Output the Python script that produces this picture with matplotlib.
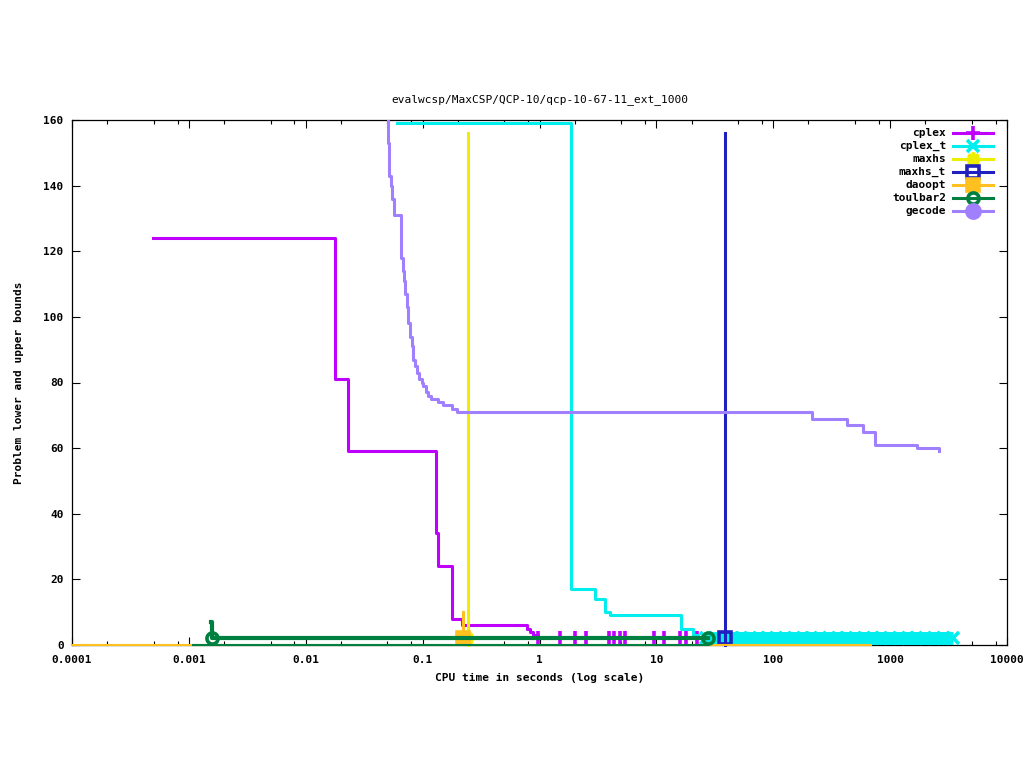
import matplotlib
matplotlib.use("Agg")
import matplotlib.pyplot as plt
from matplotlib.lines import Line2D
from matplotlib.ticker import FixedLocator, FixedFormatter, NullFormatter

# data
cplex_x = [0.00049, 0.0179, 0.0231, 0.1307, 0.136, 0.179, 0.216, 0.776, 0.828, 0.884, 0.963]
cplex_y = [124, 81, 59, 34, 24, 8, 6, 5, 4, 3, 2]
cplex_lb_x = [0.975, 1.50, 2.02, 2.51, 3.90, 4.36, 4.90, 5.41, 9.57, 11.7, 16.0, 18.0, 22.3]
cplex_lb_y = [2] * len(cplex_lb_x)

cplex_t_x = [0.060, 1.856, 2.99, 3.67, 4.0, 16.1, 20.6, 22.5]
cplex_t_y = [159, 17, 14, 10, 9, 5, 3, 2]
cplex_t_lb_x = [26.8, 32, 38, 45, 53, 63, 75, 89, 105, 125, 150, 178, 210, 250, 300,
                355, 420, 500, 600, 710, 840, 1000, 1190, 1410, 1680, 2000, 2380, 2830, 3440]
cplex_t_lb_y = [2] * len(cplex_t_lb_x)

maxhs_x = [0.243, 0.243]
maxhs_y = [156, 0]
maxhs_pt = (0.240, 2)

maxhs_t_x = [38.5, 38.5]
maxhs_t_y = [156, 0]
maxhs_t_pt = (38.5, 2)

daoopt_x = [0.2235, 0.2235]
daoopt_y = [10, 2]
daoopt_lb_x = [0.0001, 684]
daoopt_lb_y = [0, 0]

toulbar2_x = [0.00154, 0.00157, 27.4]
toulbar2_y = [7, 2, 2]
toulbar2_lb_x = [0.00109, 27.4]
toulbar2_lb_y = [0, 0]

gecode_x = [0.0500, 0.0508, 0.0518, 0.0532, 0.0550, 0.0565, 0.0580, 0.0648, 0.0656, 0.0675,
            0.0688, 0.0706, 0.0729, 0.0753, 0.0779, 0.0805, 0.0831, 0.0865, 0.0899, 0.0935,
            0.0980, 0.1012, 0.106, 0.112, 0.119, 0.136, 0.150, 0.177, 0.195, 0.216,
            215, 429, 587, 744, 1702, 2594]
gecode_y = [170, 153, 143, 140, 136, 131, 131, 124, 118, 114,
            111, 107, 103, 98, 94, 91, 87, 85, 83, 81,
            80, 79, 77, 76, 75, 74, 73, 72, 71, 71,
            69, 67, 65, 61, 60, 59]

xticks = [0.0001, 0.001, 0.01, 0.1, 1, 10, 100, 1000, 10000]
xtick_labels = ["0.0001", "0.001", "0.01", "0.1", "1", "10", "100", "1000", "10000"]
yticks = [0, 20, 40, 60, 80, 100, 120, 140, 160]

names = ["cplex", "cplex_t", "maxhs", "maxhs_t", "daoopt", "toulbar2", "gecode"]
colors = ["#c000ff", "#00eeee", "#eeee00", "#2020c0", "#ffc020", "#008040", "#a080ff"]
markers = ["+", "x", (8, 2, 0), "s", "s", "o", "o"]
filled = [True, True, True, False, True, False, True]
msizes = [10.5, 9, 10, 8, 9, 8, 9.5]

FONT = "DejaVu Sans Mono"
plt.rcParams["font.family"] = FONT
plt.rcParams["font.size"] = 8

fig = plt.figure(figsize=(10.24, 7.68), dpi=100)
ax = fig.add_axes([72 / 1024, 1 - 645 / 768, 935 / 1024, 525 / 768])

LW = 2.2
MEW = 2.6


def mk(i):
    d = dict(color=colors[i], marker=markers[i], markersize=msizes[i], markeredgewidth=MEW,
             markeredgecolor=colors[i])
    d["markerfacecolor"] = colors[i] if filled[i] else "none"
    return d


# cplex
ax.plot(cplex_x, cplex_y, drawstyle="steps-post", color=colors[0], lw=LW, zorder=3)
ax.plot(cplex_lb_x, cplex_lb_y, ls="none", zorder=3, **mk(0))

# cplex_t
ax.plot(cplex_t_x, cplex_t_y, drawstyle="steps-post", color=colors[1], lw=LW, zorder=3)
ax.plot(cplex_t_lb_x, cplex_t_lb_y, color=colors[1], lw=9.3, solid_capstyle="butt", zorder=3)
ax.plot(cplex_t_lb_x, cplex_t_lb_y, ls="none", zorder=3, **mk(1))

# maxhs
ax.plot(maxhs_x, maxhs_y, color=colors[2], lw=LW, zorder=3, clip_on=False)
ax.plot([maxhs_pt[0]], [maxhs_pt[1]], ls="none", zorder=3, **mk(2))

# maxhs_t
ax.plot(maxhs_t_x, maxhs_t_y, color=colors[3], lw=LW, zorder=3, clip_on=False)
ax.plot([maxhs_t_pt[0]], [maxhs_t_pt[1]], ls="none", zorder=3, **mk(3))

# daoopt
ax.plot(daoopt_lb_x, daoopt_lb_y, color=colors[4], lw=1.5, zorder=3, clip_on=False)
ax.plot(daoopt_x, daoopt_y, lw=LW, zorder=3, markevery=[1], **mk(4))

# toulbar2
ax.plot(toulbar2_lb_x, toulbar2_lb_y, color=colors[5], lw=1.5, zorder=3, clip_on=False)
ax.plot(toulbar2_x, toulbar2_y, drawstyle="steps-post", lw=3, zorder=3, markevery=[1, 2], **mk(5))

# gecode
ax.plot(gecode_x, gecode_y, drawstyle="steps-post", color=colors[6], lw=LW, zorder=3)

ax.set_xscale("log")
ax.set_xlim(0.0001, 10000)
ax.set_ylim(0, 160)
ax.xaxis.set_major_locator(FixedLocator(xticks))
ax.xaxis.set_major_formatter(FixedFormatter(xtick_labels))
minor = [m * 10.0 ** e for e in range(-4, 4) for m in (2, 5, 8)]
ax.xaxis.set_minor_locator(FixedLocator(minor))
ax.xaxis.set_minor_formatter(NullFormatter())
ax.set_yticks(yticks)
ax.set_yticklabels([str(v) for v in yticks])

ax.tick_params(which="both", direction="in", top=True, right=True, width=0.8, colors="black")
ax.tick_params(which="major", length=6)
ax.tick_params(which="minor", length=3)
ax.tick_params(axis="x", pad=7)
ax.tick_params(axis="y", pad=6)
for t in ax.get_xticklabels() + ax.get_yticklabels():
    t.set_fontweight("bold")
for s in ax.spines.values():
    s.set_linewidth(0.9)

ax.set_title("evalwcsp/MaxCSP/QCP-10/qcp-10-67-11_ext_1000", fontsize=8, pad=13)
ax.set_xlabel("CPU time in seconds (log scale)", fontsize=8, fontweight="bold", labelpad=6)
ax.set_ylabel("Problem lower and upper bounds", fontsize=8, fontweight="bold", labelpad=14)

# legend drawn the gnuplot way: text right aligned, sample to its right
y0 = (645 - 133.3) / 525
dy = 12.9 / 525
for i, name in enumerate(names):
    yy = y0 - i * dy
    ax.text(0.9348, yy, name, transform=ax.transAxes, ha="right", va="center",
            fontsize=8, fontweight="bold")
    ax.add_line(Line2D([0.9422, 0.985], [yy, yy], transform=ax.transAxes,
                       color=colors[i], lw=LW, zorder=5))
    ax.add_line(Line2D([0.9635], [yy], transform=ax.transAxes, ls="none", zorder=5, **mk(i)))

fig.savefig("out.png", dpi=100)
